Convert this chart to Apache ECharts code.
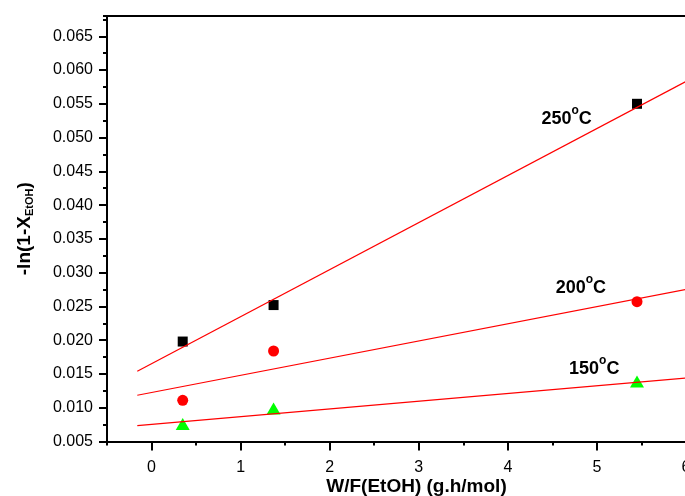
<!DOCTYPE html>
<html>
<head>
<meta charset="utf-8">
<script src="https://cdn.jsdelivr.net/npm/echarts@6/dist/echarts.min.js"></script>
<style>
html,body{margin:0;padding:0;background:#fff;}
#chart{width:685px;height:496px;}
</style>
</head>
<body>
<div id="chart"></div>
<script>
// ---- data ----
const xTicks = [0, 1, 2, 3, 4, 5, 6];
const yTicks = [0.005, 0.010, 0.015, 0.020, 0.025, 0.030, 0.035, 0.040, 0.045, 0.050, 0.055, 0.060, 0.065];
const wf = [0.35, 1.37, 5.45];
const pts250 = [0.0198, 0.0252, 0.0550];
const pts200 = [0.0111, 0.0184, 0.0257];
const pts150 = [0.0076, 0.0099, 0.0139];
const fitX = [-0.16, 6];
const fit250 = [0.0154, 0.0583];
const fit200 = [0.01185, 0.0275];
const fit150 = [0.00734, 0.0144];
const tempLabels = ['250', '200', '150'];

const font = '"Liberation Sans", Arial, sans-serif';
const pair = (xs, ys) => xs.map((x, i) => [x, ys[i]]);

const chart = echarts.init(document.getElementById('chart'), null, {renderer: 'canvas'});

function tempMark(text, coord) {
  return {
    symbol: 'circle',
    symbolSize: 1,
    silent: true,
    itemStyle: {color: 'rgba(0,0,0,0)'},
    label: {
      show: true,
      position: 'inside',
      formatter: text + '{sup|o}C',
      color: '#000',
      fontFamily: font,
      fontSize: 18,
      fontWeight: 'bold',
      rich: {
        sup: {fontSize: 12, fontWeight: 'bold', fontFamily: font, color: '#000', padding: [0, 0, 16, 0]}
      }
    },
    data: [{coord: coord}]
  };
}

const option = {
  animation: false,
  backgroundColor: '#fff',
  grid: {left: 107, top: 16, width: 579, height: 425.5, containLabel: false, outerBoundsMode: 'none'},
  xAxis: [
    {
      type: 'value', min: -0.5, max: 6, interval: 0.5,
      name: 'W/F(EtOH) (g.h/mol)', nameLocation: 'middle', nameGap: 36, nameMoveOverlap: false,
      nameTextStyle: {fontFamily: font, fontSize: 19, fontWeight: 'bold', color: '#000', padding: [0, 0, 0, 40]},
      axisLine: {show: true, onZero: false, lineStyle: {color: '#000', width: 2}},
      axisTick: {show: true, length: 9, customValues: xTicks, lineStyle: {color: '#000', width: 2}},
      axisLabel: {show: true, customValues: xTicks, margin: 18, fontFamily: font, fontSize: 16, color: '#000'},
      splitLine: {show: false}
    },
    {
      type: 'value', min: -0.5, max: 6, interval: 0.5, position: 'bottom',
      axisLine: {show: false, onZero: false},
      axisTick: {show: true, length: 4, lineStyle: {color: '#000', width: 2}},
      axisLabel: {show: false},
      splitLine: {show: false}
    },
    {
      type: 'value', min: -0.5, max: 6, position: 'top',
      axisLine: {show: true, onZero: false, lineStyle: {color: '#000', width: 2}},
      axisTick: {show: false},
      axisLabel: {show: false},
      splitLine: {show: false}
    }
  ],
  yAxis: [
    {
      type: 'value', min: 0.005, max: 0.068, interval: 0.005,
      name: '-ln(1-X{sub|EtOH})', nameLocation: 'middle', nameGap: 72, nameRotate: 90, nameMoveOverlap: false,
      nameTextStyle: {
        fontFamily: font, fontSize: 19, fontWeight: 'bold', color: '#000',
        rich: {sub: {fontFamily: font, fontSize: 11, fontWeight: 'bold', color: '#000', padding: [10, 0, 0, 0]}}
      },
      axisLine: {show: true, onZero: false, lineStyle: {color: '#000', width: 2}},
      axisTick: {show: true, length: 8, customValues: yTicks, lineStyle: {color: '#000', width: 2}},
      axisLabel: {
        show: true, customValues: yTicks, margin: 14, fontFamily: font, fontSize: 16, color: '#000',
        formatter: v => v.toFixed(3)
      },
      splitLine: {show: false}
    },
    {
      type: 'value', min: 0.005, max: 0.068, interval: 0.0025, position: 'left',
      axisLine: {show: false, onZero: false},
      axisTick: {show: true, length: 4, lineStyle: {color: '#000', width: 2}},
      axisLabel: {show: false},
      splitLine: {show: false}
    }
  ],
  series: [
    {
      type: 'line', data: pair(fitX, fit250), symbol: 'none', silent: true,
      lineStyle: {color: '#ff0000', width: 1.2},
      markPoint: tempMark(tempLabels[0], [4.66, 0.0528])
    },
    {
      type: 'line', data: pair(fitX, fit200), symbol: 'none', silent: true,
      lineStyle: {color: '#ff0000', width: 1.2},
      markPoint: tempMark(tempLabels[1], [4.82, 0.0277])
    },
    {
      type: 'line', data: pair(fitX, fit150), symbol: 'none', silent: true,
      lineStyle: {color: '#ff0000', width: 1.2},
      markPoint: tempMark(tempLabels[2], [4.97, 0.0158])
    },
    {
      type: 'scatter', data: pair(wf, pts250), symbol: 'rect', symbolSize: 10,
      itemStyle: {color: '#000000', opacity: 1}
    },
    {
      type: 'scatter', data: pair(wf, pts200), symbol: 'circle', symbolSize: 11,
      itemStyle: {color: '#ff0000', opacity: 1}
    },
    {
      type: 'scatter', data: pair(wf, pts150), symbol: 'triangle', symbolSize: [14, 12],
      itemStyle: {color: '#00ff00', opacity: 1}
    }
  ]
};
chart.setOption(option);
</script>
</body>
</html>
